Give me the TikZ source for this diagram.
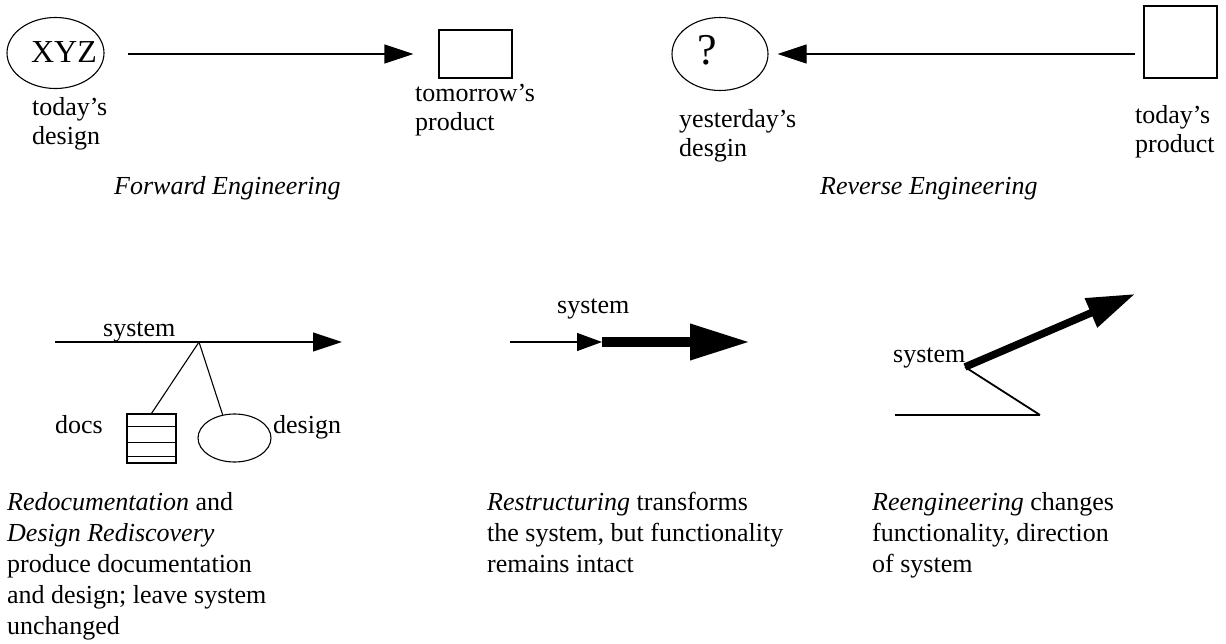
\documentclass[tikz,border=0pt]{standalone}
\usepackage{fontspec}
\setmainfont{Liberation Serif}
\usetikzlibrary{arrows.meta,shapes.geometric}
\begin{document}
\begin{tikzpicture}[x=1pt,y=-1pt,
  lbl/.style={inner sep=0pt, anchor=base west, font=\fontsize{26}{29}\selectfont},
  mlbl/.style={inner sep=0pt, anchor=north west, align=left, font=\fontsize{26}{29}\selectfont},
  txt/.style={inner sep=0pt, anchor=north west, align=left, font=\fontsize{26}{31}\selectfont},
  thinline/.style={line width=1.1pt},
  arr/.style={thinline, -{Triangle[length=29pt,width=19pt]}},
  oval/.style={draw, thinline, ellipse, inner sep=0pt},
  box/.style={draw, thinline, rectangle, inner sep=0pt},
]
\useasboundingbox (0,0) rectangle (1226,644);

% ---------- Forward engineering ----------
\node[oval, minimum width=97pt, minimum height=71pt] (xyzE) at (55.5,53) {};
\node[inner sep=0pt, font=\fontsize{32}{36}\selectfont] (xyz) at (64,52.5) {XYZ};
\node[box, minimum width=73pt, minimum height=48pt] (tp) at (475.5,54) {};
\draw[arr, shorten <=23pt, shorten >=25pt] (xyzE.east |- tp.west) -- (tp.west);
\node[mlbl] (tdl) at (32,97) {today’s\\design};
\node[mlbl] (tml) at (415,84) {tomorrow’s\\product};
\node[lbl] (fwd) at (114,195) {\textit{Forward Engineering}};

% ---------- Reverse engineering ----------
\node[oval, minimum width=96pt, minimum height=73pt] (qE) at (720,54) {};
\node[inner sep=0pt, font=\fontsize{44}{48}\selectfont] (q) at (707,50) {?};
\node[box, minimum width=73pt, minimum height=72pt] (sq) at (1180.5,42) {};
\draw[arr, shorten <=8pt, shorten >=9pt] (sq.west |- qE.east) -- (qE.east);
\node[mlbl] (ydl) at (679,109) {yesterday’s\\desgin};
\node[mlbl] (tpl) at (1135,105) {today’s\\product};
\node[lbl] (rev) at (820,195) {\textit{Reverse Engineering}};

% ---------- Redocumentation ----------
\coordinate (s1a) at (55,342);
\coordinate (s1b) at (342,342);
\coordinate (J) at (199,342);
\draw[arr] (s1a) -- (s1b);
\node[lbl] (sys1) at (103,337) {system};
\node[box, minimum size=49pt] (docs) at (151.5,438.5) {};
\draw[thinline] (docs.north west) ++(0,13) -- ++(49,0);
\draw[thinline] (docs.north west) ++(0,29) -- ++(49,0);
\draw[thinline] (docs.north west) ++(0,43) -- ++(49,0);
\node[oval, minimum width=73pt, minimum height=48pt] (des) at (234.5,438) {};
\draw[thinline] (J) -- (docs.north);
\draw[thinline] (J) -- (des.117);
\node[lbl] (docsl) at (55,433) {docs};
\node[lbl] (desl) at (273,433) {design};

% ---------- Restructuring ----------
\coordinate (r0) at (510,342);
\coordinate (r1) at (602,342);
\coordinate (r2) at (750,342);
\draw[thinline, -{Triangle[length=25pt,width=18pt]}] (r0) -- (r1);
\draw[line width=10pt, -{Triangle[length=60pt,width=34pt]}] (r1) -- (r2);
\node[lbl] (sys2) at (557,313) {system};

% ---------- Reengineering ----------
\coordinate (p) at (965,367);
\coordinate (t) at (1135,294);
\coordinate (k) at (1040,415);
\coordinate (h) at (895,415);
\draw[thinline] (h) -- (k);
\draw[line width=1.8pt] (k) -- (p);
\draw[line width=7.5pt, -{Triangle[length=48pt,width=30pt]}] (p) -- (t);
\node[lbl] (sys3) at (893,362) {system};

% ---------- Captions ----------
\node[txt] (c1) at (7,492) {\textit{Redocumentation} and\\\textit{Design Rediscovery}\\produce documentation\\and design; leave system\\unchanged};
\node[txt] (c2) at (487,492) {\textit{Restructuring} transforms\\the system, but functionality\\remains intact};
\node[txt] (c3) at (872,492) {\textit{Reengineering} changes\\functionality, direction\\of system};
\end{tikzpicture}
\end{document}
